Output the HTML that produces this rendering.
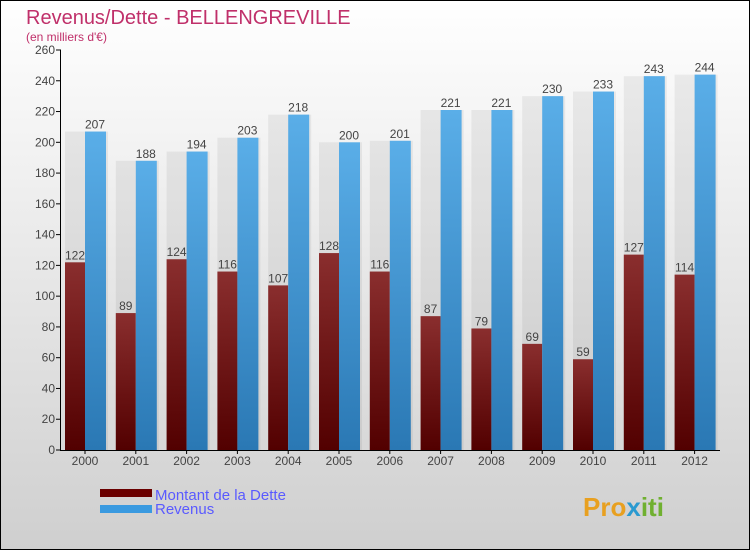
<!DOCTYPE html>
<html><head><meta charset="utf-8"><style>
body{margin:0;}
#c{width:750px;height:550px;position:relative;font-family:"Liberation Sans",sans-serif;}
</style></head><body>
<div id="c">
<svg width="750" height="550" xmlns="http://www.w3.org/2000/svg">
<defs>
<linearGradient id="bg" x1="0" y1="0" x2="0" y2="1"><stop offset="0" stop-color="#ffffff"/><stop offset="1" stop-color="#cfcfcf"/></linearGradient>
<linearGradient id="gd" x1="0" y1="0" x2="0" y2="1"><stop offset="0" stop-color="#8a2e2e"/><stop offset="1" stop-color="#520000"/></linearGradient>
<linearGradient id="gr" x1="0" y1="0" x2="0" y2="1"><stop offset="0" stop-color="#5aaee8"/><stop offset="1" stop-color="#2a78b4"/></linearGradient>
</defs>
<rect x="0.5" y="0.5" width="749" height="549" fill="url(#bg)" stroke="#000"/>
<text x="26" y="24" font-size="20" fill="#c0306a">Revenus/Dette - BELLENGREVILLE</text>
<text x="26" y="41" font-size="12" fill="#c0306a">(en milliers d'€)</text>
<g id="plot"></g>
<rect x="100" y="489" width="52" height="8" fill="#6a0000"/>
<rect x="100" y="505" width="52" height="8" fill="#3a9ae0"/>
<text x="155" y="500" font-size="15" fill="#5a5aff">Montant de la Dette</text>
<text x="155" y="514" font-size="15" fill="#5a5aff">Revenus</text>
<text x="583" y="516" font-size="26" font-weight="bold" fill="#e8a020">Pro<tspan fill="#2a9ad0">x</tspan><tspan fill="#70b030">iti</tspan></text>
</svg>
</div>
<script>
const years=["2000","2001","2002","2003","2004","2005","2006","2007","2008","2009","2010","2011","2012"];
const dette=[122,89,124,116,107,128,116,87,79,69,59,127,114];
const revenus=[207,188,194,203,218,200,201,221,221,230,233,243,244];
const ticks=[0,20,40,60,80,100,120,140,160,180,200,220,240,260];
const NS="http://www.w3.org/2000/svg";
const g=document.getElementById('plot');
const y0=450,y1=50,vmax=260;
const y=v=>y0-(v/vmax)*(y0-y1);
const x=i=>85+i*50.8;
function mk(t,a){const e=document.createElementNS(NS,t);for(const k in a)e.setAttribute(k,a[k]);g.appendChild(e);return e;}
ticks.forEach(t=>{
 const l=mk('line',{x1:56,x2:61,y1:y(t),y2:y(t),stroke:'#000'});
 
 
 const tx=mk('text',{x:55,y:y(t)+4,'font-size':12,'text-anchor':'end',fill:'#444'});tx.textContent=t;
 
 
});
years.forEach((yr,i)=>{
 const cx=x(i);
 const sh=mk('rect',{x:cx-20,y:y(Math.max(dette[i],revenus[i])),width:43,height:y0-y(Math.max(dette[i],revenus[i])),fill:'rgba(0,0,0,0.06)'});
 
 
 const b1=mk('rect',{x:cx-20,y:y(dette[i]),width:20,height:y0-y(dette[i]),fill:'url(#gd)'});
 
 
 const b2=mk('rect',{x:cx,y:y(revenus[i]),width:21,height:y0-y(revenus[i]),fill:'url(#gr)'});
 
 
 const t1=mk('text',{x:cx-10,y:y(dette[i])-3,'font-size':12,'text-anchor':'middle',fill:'#444'});t1.textContent=dette[i];
 
 
 const t2=mk('text',{x:cx+10,y:y(revenus[i])-3,'font-size':12,'text-anchor':'middle',fill:'#444'});t2.textContent=revenus[i];
 
 
 const tk=mk('line',{x1:cx,x2:cx,y1:y0,y2:y0+4,stroke:'#000'});
 
 
 const xl=mk('text',{x:cx,y:465,'font-size':12,'text-anchor':'middle',fill:'#444'});xl.textContent=yr;
 
 
});
const ax=mk('line',{x1:60.5,x2:60.5,y1:y1,y2:y0,stroke:'#000'});


const axx=mk('line',{x1:60,x2:720,y1:y0+0.5,y2:y0+0.5,stroke:'#000'});


</script>
</body></html>
